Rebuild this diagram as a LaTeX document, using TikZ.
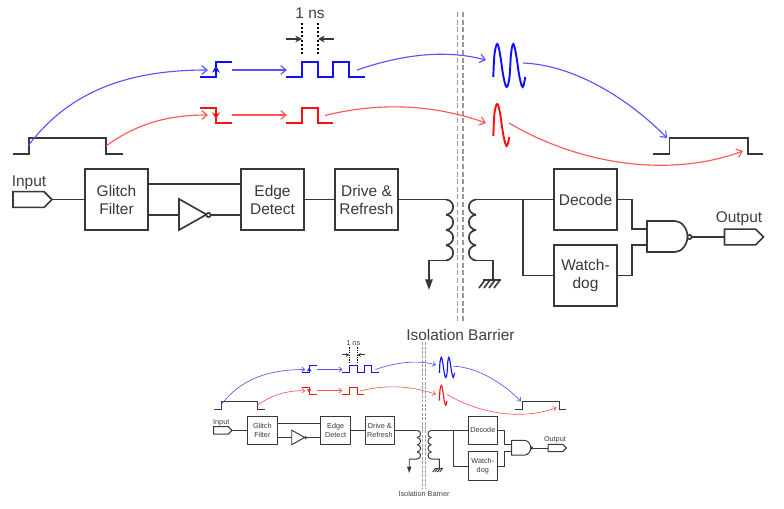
\documentclass[tikz,border=0pt]{standalone}
\usepackage{fontspec}
\setmainfont{Liberation Sans}
\usetikzlibrary{arrows.meta,shapes.symbols}
\definecolor{inkgray}{HTML}{404040}
\definecolor{lineblk}{HTML}{383838}
\definecolor{sigblue}{HTML}{1010FF}
\definecolor{sigred}{HTML}{FF1010}
\definecolor{hopblue}{HTML}{5555FF}
\definecolor{hopred}{HTML}{FF5555}
\tikzset{
	lbl/.style={text=inkgray,font=\fontsize{11.6}{13.5}\selectfont,align=center,inner sep=0pt},
	block/.style={draw=lineblk,rectangle,minimum width=47.25pt,minimum height=45.75pt,inner sep=0pt},
	tag/.style={draw=lineblk,signal,signal to=east,minimum width=29.25pt,minimum height=11.8pt,inner sep=0pt},
	bubble/.style={draw=lineblk,fill=white,circle,minimum size=3.2pt,inner sep=0pt}
}
% the whole drawing, in reference pixels; #1 = weight of the strokes
\newcommand{\barrierfig}[1]{
	\tikzset{
		wire/.style={lineblk,line width=#1*1.25pt},
		hop/.style={line width=#1*.85pt,-{Straight Barb[scale=#1,length=4pt,width=6.5pt]}},
		trace/.style={line width=#1*1.45pt},
		wall/.style={black!40,line width=#1*.9pt,dash pattern=on #1*3.8pt off #1*1.9pt},
		dots/.style={line width=#1*1.2pt,dash pattern=on #1*1.5pt off #1*1.6pt}
	}
	% blocks
	\node[block,lbl,wire] (glitch) at (116.5,199.5) {Glitch\\Filter};
	\node[block,lbl,wire] (edge) at (272.5,199.5) {Edge\\Detect};
	\node[block,lbl,wire] (drive) at (366.5,199.5) {Drive \&\\Refresh};
	\node[block,lbl,wire] (decode) at (585.5,199.5) {Decode};
	\node[block,lbl,wire] (watch) at (585.5,275.5) {Watch-\\dog};
	\node[tag,wire] (input) at (28.5,199.5) {};
	\node[tag,wire] (output) at (740,237) {};
	\node[lbl] (inputlbl) at (29,183) {Input};
	\node[lbl] (outputlbl) at (739,219) {Output};
	\node[lbl] (isolbl) at (460.5,335) {Isolation Barrier};
	\node[lbl] (nslbl) at (310,13) {1 ns};
	\coordinate (topw) at (0,184);
	\coordinate (botw) at (0,215);
	\coordinate (invin) at (179,215);
	\coordinate (nandA) at (647,229);
	\coordinate (nandB) at (647,245);
	\coordinate (lcoiltop) at (446,199.5);
	\coordinate (lcoilbot) at (446,260.5);
	\coordinate (rcoiltop) at (476,199.5);
	\coordinate (rcoilbot) at (476,260.5);
	\coordinate (sink) at (429,290);
	\coordinate (gnd) at (493,280);
	\coordinate (tap) at (523,199.5);
	\coordinate (joinA) at (632,229);
	\coordinate (joinB) at (632,245);
	% gates
	\draw[wire] (179,199) -- (179,230) -- (206.5,214.5) -- cycle;
	\draw[wire] (647,221) -- (675,221) .. controls (682,221) and (687.5,229) .. (687.5,236.5) .. controls (687.5,244) and (682,252) .. (675,252) -- (647,252) -- cycle;
	\node[wire,bubble] (invbub) at (208.5,215) {};
	\node[wire,bubble] (nandbub) at (689.5,237) {};
	% connectors
	\draw[wire] (input.east) -- (glitch.west);
	\draw[wire] (glitch.east |- topw) -- (edge.west |- topw);
	\draw[wire] (glitch.east |- botw) -- (invin);
	\draw[wire] (invbub.east) -- (edge.west |- invbub.east);
	\draw[wire] (edge.east) -- (drive.west);
	\draw[wire] (drive.east) -- (lcoiltop);
	\draw[wire] (decode.west) -- (rcoiltop);
	\draw[wire] (tap) |- (watch.west);
	\draw[wire] (decode.east) -| (joinA) -- (nandA);
	\draw[wire] (watch.east) -| (joinB) -- (nandB);
	\draw[wire] (nandbub.east) -- (output.west);
	\draw[wire,-{Triangle[length=8pt,width=5.5pt,scale=#1]}] (lcoilbot) -- (429,260.5) -- (sink);
	\draw[wire] (rcoilbot) -- (493,260.5) -- (gnd);
	% transformer
	\foreach \yc in {199.5,214.75,230,245.25}
	{
		\draw[wire] (446,\yc) .. controls (455.5,\yc+1) and (455.5,\yc+14) .. (446,\yc+15.25);
		\draw[wire] (476,\yc) .. controls (466.5,\yc+1) and (466.5,\yc+14) .. (476,\yc+15.25);
	}
	\draw[wire] (483,280) -- (501,280);
	\foreach \x in {485,490,495,500}
	{
		\draw[wire] (\x,280) -- (\x-6,288);
	}
	% barrier
	\draw[wall] (457.5,12) -- (457.5,323);
	\draw[wall] (463,12) -- (463,323);
	% 1 ns marker
	\draw[dots] (302,23) -- (302,54);
	\draw[dots] (318,23) -- (318,54);
	\draw[wire,-{Stealth[length=5pt,width=5pt,scale=#1]}] (286,39) -- (302,39);
	\draw[wire,-{Stealth[length=5pt,width=5pt,scale=#1]}] (334,39) -- (318,39);
	% pulses
	\draw[wire] (13,154) -- (29,154) -- (29,138) -- (106,138) -- (106,154) -- (123,154);
	\draw[wire] (653,154) -- (669.5,154) -- (669.5,138) -- (748,138) -- (748,154) -- (763,154);
	\draw[trace,sigblue] (200,77) -- (216,77) -- (216,62) -- (232,62);
	\draw[trace,sigblue,-{Stealth[length=5pt,width=6pt,scale=#1]}] (216,77) -- (216,66);
	\draw[trace,sigblue] (286,77) -- (302,77) -- (302,62) -- (318,62) -- (318,77) -- (333,77) -- (333,62) -- (349,62) -- (349,77) -- (365,77);
	\draw[trace,sigred] (200,108) -- (216,108) -- (216,123) -- (232,123);
	\draw[trace,sigred,-{Stealth[length=5pt,width=6pt,scale=#1]}] (216,108) -- (216,119);
	\draw[trace,sigred] (286,123) -- (302,123) -- (302,108) -- (318,108) -- (318,123) -- (333,123);
	\draw[trace,sigblue] plot [smooth, tension=.6] coordinates {(493.3,77) (494.5,54) (497.3,44) (500,54) (503.5,77) (506.7,87) (509.5,77) (511,54) (513.3,44) (516,54) (519.5,77) (522.7,87) (525.3,77)};
	\draw[trace,sigred] plot [smooth, tension=.6] coordinates {(493.3,136) (494.5,113) (497.3,104) (500,113) (503.5,136) (506.7,146) (509.3,137)};
	% hops
	\draw[hop,hopblue] (28,146) .. controls (70,90) and (130,70) .. (208,70);
	\draw[hop,hopblue] (232,70) -- (287,70);
	\draw[hop,hopblue] (357,70) .. controls (395,57) and (440,48) .. (486,60);
	\draw[hop,hopblue] (523,63) .. controls (575,65) and (630,100) .. (667,138);
	\draw[hop,hopred] (106,146) .. controls (135,125) and (165,115) .. (208,115);
	\draw[hop,hopred] (232,115) -- (287,115);
	\draw[hop,hopred] (325,115.5) .. controls (375,103) and (430,103) .. (486,123);
	\draw[hop,hopred] (509,123) .. controls (580,165) and (670,178) .. (743,151);
}
\begin{document}
\begin{tikzpicture}[x=.75pt,y=-.75pt]
	\useasboundingbox (0,0) rectangle (784,508);
	\begin{scope}
		\barrierfig{1}
	\end{scope}
	\begin{scope}[shift={(207.6,336.6)},scale=.47,transform shape]
		\barrierfig{.58}
	\end{scope}
\end{tikzpicture}
\end{document}
